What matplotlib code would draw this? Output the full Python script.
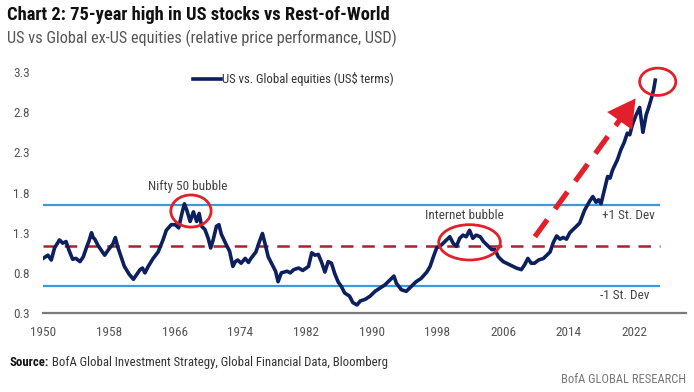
import matplotlib
matplotlib.use("Agg")
import matplotlib.pyplot as plt
from matplotlib.patches import Ellipse

plt.rcParams["font.family"] = ["Roboto Condensed", "Roboto", "DejaVu Sans"]

# US vs Global ex-US relative price
years = [
    1950.0, 1950.3, 1950.6, 1951.0, 1951.4, 1951.7, 1952.0, 1952.4, 1952.8, 1953.2,
    1953.6, 1954.0, 1954.5, 1954.9, 1955.3, 1955.6, 1955.9, 1956.1, 1956.3, 1956.7,
    1957.1, 1957.5, 1957.9, 1958.5, 1958.8, 1959.1, 1959.5, 1959.9, 1960.5, 1961.0,
    1961.4, 1961.8, 1962.1, 1962.4, 1962.8, 1963.4, 1964.0, 1964.6, 1965.0, 1965.6,
    1966.1, 1966.5, 1966.9, 1967.2, 1967.5, 1967.9, 1968.3, 1968.7, 1969.0, 1969.3,
    1969.7, 1970.1, 1970.4, 1970.7, 1971.1, 1971.4, 1971.7, 1972.3, 1972.7, 1973.1,
    1973.4, 1973.7, 1974.1, 1974.6, 1975.0, 1975.3, 1975.6, 1975.9, 1976.4, 1976.7,
    1977.0, 1977.4, 1977.8, 1978.3, 1978.6, 1979.0, 1979.7, 1980.1, 1980.5, 1981.1,
    1981.6, 1982.3, 1982.7, 1983.1, 1983.5, 1983.9, 1984.3, 1984.7, 1985.1, 1985.5,
    1985.9, 1986.3, 1986.7, 1987.3, 1987.7, 1988.2, 1988.6, 1989.2, 1989.8, 1990.4,
    1991.0, 1991.6, 1992.2, 1992.7, 1993.0, 1993.6, 1994.2, 1994.8, 1995.4, 1996.0,
    1996.7, 1997.1, 1997.5, 1997.9, 1998.5, 1999.1, 1999.5, 1999.9, 2000.3, 2000.7,
    2001.1, 2001.5, 2001.9, 2002.3, 2002.7, 2003.2, 2003.6, 2004.2, 2004.6, 2005.0,
    2005.4, 2006.0, 2006.8, 2007.6, 2008.2, 2008.6, 2009.0, 2009.4, 2009.8, 2010.3,
    2010.9, 2011.3, 2011.7, 2012.1, 2012.5, 2012.9, 2013.3, 2013.7, 2014.1, 2014.5,
    2014.9, 2015.3, 2015.9, 2016.5, 2016.9, 2017.3, 2017.6, 2017.9, 2018.3, 2018.7,
    2019.0, 2019.3, 2019.9, 2020.3, 2020.7, 2021.1, 2021.4, 2021.7, 2022.1, 2022.6,
    2023.0, 2023.4, 2023.7, 2024.1, 2024.3, 2024.5,
]
values = [
    0.98, 1.00, 1.02, 0.96, 1.11, 1.16, 1.21, 1.17, 1.19, 1.07,
    0.97, 0.98, 0.94, 1.00, 1.12, 1.20, 1.30, 1.24, 1.22, 1.14,
    1.08, 1.02, 1.08, 1.16, 1.24, 1.12, 1.00, 0.88, 0.78, 0.72,
    0.78, 0.84, 0.86, 0.80, 0.88, 0.98, 1.06, 1.21, 1.33, 1.40,
    1.40, 1.36, 1.54, 1.66, 1.58, 1.44, 1.56, 1.44, 1.54, 1.38,
    1.34, 1.23, 1.11, 1.21, 1.38, 1.40, 1.28, 1.15, 1.07, 0.88,
    0.94, 0.96, 0.92, 0.98, 0.93, 0.98, 1.02, 1.06, 1.21, 1.29,
    1.17, 1.00, 0.92, 0.82, 0.69, 0.80, 0.82, 0.80, 0.84, 0.86,
    0.83, 0.88, 1.05, 1.02, 1.03, 0.93, 0.81, 0.94, 0.92, 0.79,
    0.69, 0.63, 0.55, 0.51, 0.43, 0.40, 0.45, 0.47, 0.51, 0.57,
    0.61, 0.65, 0.71, 0.76, 0.67, 0.59, 0.57, 0.63, 0.69, 0.73,
    0.81, 0.88, 1.00, 1.11, 1.15, 1.21, 1.25, 1.17, 1.13, 1.23,
    1.27, 1.25, 1.33, 1.23, 1.27, 1.25, 1.19, 1.13, 1.09, 1.09,
    1.00, 0.94, 0.90, 0.86, 0.84, 0.90, 0.98, 0.92, 0.92, 0.96,
    0.98, 1.02, 1.06, 1.18, 1.26, 1.22, 1.24, 1.22, 1.30, 1.34,
    1.38, 1.42, 1.58, 1.69, 1.75, 1.68, 1.71, 1.66, 1.83, 2.00,
    1.98, 2.08, 2.21, 2.33, 2.42, 2.54, 2.52, 2.64, 2.75, 2.86,
    2.55, 2.77, 2.86, 3.00, 3.08, 3.20,
]

mean_level = 1.14
plus_one_sd = 1.64
minus_one_sd = 0.64
ref_start, ref_end = 1950, 2025.1

x_ticks = [1950, 1958, 1966, 1974, 1982, 1990, 1998, 2006, 2014, 2022]
y_ticks = [0.3, 0.8, 1.3, 1.8, 2.3, 2.8, 3.3]

navy = "#0c1f5e"
light_blue = "#3b9ad9"
dark_red = "#a3262f"
red = "#e3202a"
gray_text = "#555555"

fig = plt.figure(figsize=(6.94, 3.92), dpi=100)
ax = fig.add_axes([0.062, 0.2015, 0.926, 0.635])

ax.hlines([plus_one_sd, minus_one_sd], ref_start, ref_end, color=light_blue, lw=1.6)
ax.hlines(mean_level, ref_start, ref_end, color=dark_red, lw=1.8, linestyles=(0, (5, 3.5)))
ax.plot(years, values, color=navy, lw=2.6, solid_joinstyle="round",
        label="US vs. Global equities (US$ terms)")

# bubble circles
for (cx, cy, w, h) in [(1968.0, 1.57, 4.9, 0.40), (2001.9, 1.18, 7.5, 0.44), (2024.8, 3.18, 4.4, 0.34)]:
    ax.add_patch(Ellipse((cx, cy), w, h, fill=False, edgecolor=red, lw=2, zorder=5))

# dashed trend arrow
ax.plot([2009.85, 2021.0], [1.25, 2.82], color=red, lw=3.8, linestyle=(0, (4, 2.5)), zorder=5)
ax.annotate("", xy=(2022.3, 3.0), xytext=(2020.7, 2.77),
            arrowprops=dict(arrowstyle="-|>,head_length=0.9,head_width=0.5",
                            color=red, lw=0, mutation_scale=22), zorder=6)

ax.text(1967.6, 1.88, "Nifty 50 bubble", ha="center", va="center", fontsize=9.5, color="#444444")
ax.text(2001.3, 1.51, "Internet bubble", ha="center", va="center", fontsize=9.5, color="#444444")
ax.text(2018.0, 1.51, "+1 St. Dev", ha="left", va="center", fontsize=9.5, color="#444444")
ax.text(2017.8, 0.52, "-1 St. Dev", ha="left", va="center", fontsize=9.5, color="#444444")

ax.set_xlim(1950, 2028.2)
ax.set_ylim(0.3, 3.4)
ax.set_xticks(x_ticks)
ax.set_yticks(y_ticks)
ax.set_yticklabels([f"{v:.1f}" for v in y_ticks])
ax.tick_params(axis="both", length=0, labelsize=9.5, labelcolor=gray_text)
ax.tick_params(axis="x", pad=9)
ax.tick_params(axis="y", pad=21.5)
for lbl in ax.get_yticklabels():
    lbl.set_horizontalalignment("left")
for side in ["top", "right", "left"]:
    ax.spines[side].set_visible(False)
ax.spines["bottom"].set_color("#7a7a7a")
ax.spines["bottom"].set_linewidth(1.6)

ax.legend(loc="center left", bbox_to_anchor=(0.215, 0.94), frameon=False,
          fontsize=9.2, handlelength=2.2, handletextpad=0.1, labelcolor="#333333")

fig.text(0.01, 0.962, "Chart 2: 75-year high in US stocks vs Rest-of-World",
         fontsize=13.3, fontweight="bold", color="#111111", va="center")
fig.text(0.01, 0.903, "US vs Global ex-US equities (relative price performance, USD)",
         fontsize=11.7, color=gray_text, va="center")
src = fig.text(0.014, 0.0765, "Source:", fontsize=9.2, fontweight="bold", color="#111111", va="center")
ax.annotate(" BofA Global Investment Strategy, Global Financial Data, Bloomberg",
            xy=(1, 0.5), xycoords=src, va="center", ha="left",
            fontsize=9.2, color="#333333", annotation_clip=False)
fig.text(0.988, 0.033, "BofA GLOBAL RESEARCH", fontsize=9, color="#777777", ha="right", va="center")

fig.savefig("out.png", dpi=100)
